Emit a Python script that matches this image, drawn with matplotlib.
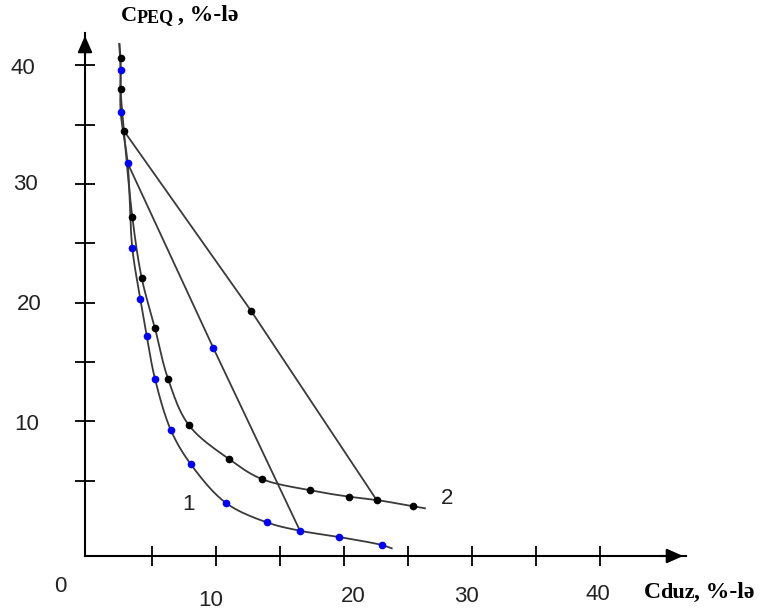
import numpy as np
import matplotlib.pyplot as plt

# curve 1 (blue points)
c1_x = [2.55, 2.55, 3.10, 3.46, 4.09, 4.59, 5.23, 6.48, 8.02, 10.78, 13.96, 16.56, 19.63, 22.95]
c1_y = [39.62, 36.08, 31.74, 24.62, 20.28, 17.19, 13.59, 9.24, 6.40, 3.12, 1.49, 0.78, 0.25, -0.42]
c1_start = (2.45, 41.79)
c1_end = (23.73, -0.70)

# curve 2 (black points)
c2_x = [2.55, 2.55, 2.81, 3.46, 4.20, 5.23, 6.25, 7.89, 11.04, 13.57, 17.34, 20.39, 22.55, 25.41]
c2_y = [40.58, 37.97, 34.46, 27.24, 22.05, 17.86, 13.59, 9.66, 6.80, 5.14, 4.19, 3.65, 3.37, 2.84]
c2_start = (2.45, 41.79)
c2_end = (26.33, 2.67)

# tie lines
tieA_x = [2.81, 12.73, 22.55]
tieA_y = [34.46, 19.32, 3.37]
tieB_x = [3.10, 9.79, 16.56]
tieB_y = [31.74, 16.18, 0.78]

ticks = [5, 10, 15, 20, 25, 30, 35, 40]
x_labels = ["0", "10", "20", "30", "40"]
y_labels = ["40", "30", "20", "10"]


def smooth(xs, ys, n=20):
    # centripetal Catmull-Rom through the points, just for drawing the curve
    p = np.column_stack([xs, ys]).astype(float)
    p = np.vstack([2 * p[0] - p[1], p, 2 * p[-1] - p[-2]])
    out = []
    for i in range(1, len(p) - 2):
        p0, p1, p2, p3 = p[i - 1], p[i], p[i + 1], p[i + 2]
        t0 = 0.0
        t1 = t0 + np.linalg.norm(p1 - p0) ** 0.5
        t2 = t1 + np.linalg.norm(p2 - p1) ** 0.5
        t3 = t2 + np.linalg.norm(p3 - p2) ** 0.5
        t = np.linspace(t1, t2, n)[:, None]
        a1 = (t1 - t) / (t1 - t0) * p0 + (t - t0) / (t1 - t0) * p1
        a2 = (t2 - t) / (t2 - t1) * p1 + (t - t1) / (t2 - t1) * p2
        a3 = (t3 - t) / (t3 - t2) * p2 + (t - t2) / (t3 - t2) * p3
        b1 = (t2 - t) / (t2 - t0) * a1 + (t - t0) / (t2 - t0) * a2
        b2 = (t3 - t) / (t3 - t1) * a2 + (t - t1) / (t3 - t1) * a3
        c = (t2 - t) / (t2 - t1) * b1 + (t - t1) / (t2 - t1) * b2
        out.append(c)
    out = np.vstack(out)
    return out[:, 0], out[:, 1]


W, H = 767, 614


def fpos(x, y):
    return x / W, 1 - y / H


fig = plt.figure(figsize=(7.67, 6.14), dpi=100)
ax = fig.add_axes([85 / W, 1 - 556 / H, (686 - 85) / W, (556 - 33) / H])
ax.set_xlim(-0.234, 46.72)
ax.set_ylim(-1.348, 42.71)

line_col = "#3a3a3a"

# curves
sx, sy = smooth([c1_start[0]] + c1_x + [c1_end[0]], [c1_start[1]] + c1_y + [c1_end[1]])
ax.plot(sx, sy, color=line_col, lw=1.3, zorder=2)
sx, sy = smooth([c2_start[0]] + c2_x + [c2_end[0]], [c2_start[1]] + c2_y + [c2_end[1]])
ax.plot(sx, sy, color=line_col, lw=1.3, zorder=2)

# tie lines
ax.plot(tieA_x, tieA_y, color=line_col, lw=1.3, zorder=2)
ax.plot(tieB_x, tieB_y, color=line_col, lw=1.3, zorder=2)

# points
ax.plot(c2_x, c2_y, "o", color="black", ms=4.5, zorder=3)
ax.plot(tieA_x[1], tieA_y[1], "o", color="black", ms=4.5, zorder=3)
ax.plot(c1_x, c1_y, "o", color="#0000ff", ms=4.5, zorder=3)
ax.plot(tieB_x[1], tieB_y[1], "o", color="#0000ff", ms=4.5, zorder=3)

# axes look
for s in ["top", "right"]:
    ax.spines[s].set_visible(False)
for s in ["left", "bottom"]:
    ax.spines[s].set_linewidth(1.5)
ax.set_xticks(ticks)
ax.set_yticks(ticks)
ax.tick_params(direction="inout", length=15, width=1.3, labelbottom=False, labelleft=False)

arrow = dict(arrowstyle="-|>,head_length=0.5,head_width=0.22", color="black", lw=1.5, mutation_scale=20)
ax.annotate("", xy=(1.0, 0), xytext=(0.95, 0), xycoords="axes fraction", arrowprops=arrow, annotation_clip=False)
ax.annotate("", xy=(0, 1.0), xytext=(0, 0.95), xycoords="axes fraction", arrowprops=arrow, annotation_clip=False)

# tick labels
num_font = dict(family=["Liberation Sans", "DejaVu Sans"], fontsize=16, color="#222222")
for lab, (x, y) in zip(y_labels, [(23, 68), (25, 185), (29, 305), (27, 424)]):
    fig.text(*fpos(x, y), lab, ha="center", va="center", **num_font)
for lab, (x, y) in zip(x_labels, [(60, 586), (211, 600), (353, 597), (466, 596), (598, 594)]):
    fig.text(*fpos(x, y), lab, ha="center", va="center", **num_font)

# curve numbers
fig.text(*fpos(189, 504), "1", ha="center", va="center", **num_font)
fig.text(*fpos(447, 499), "2", ha="center", va="center", **num_font)

# axis titles
serif = ["Liberation Serif", "DejaVu Serif"]
fig.text(*fpos(121, 21), "C", family=serif, weight="bold", fontsize=16, va="baseline")
fig.text(*fpos(137, 22), "PEQ", family=serif, weight="bold", fontsize=13, va="baseline")
fig.text(*fpos(178, 21), ", %-lə", family=serif, weight="bold", fontsize=17, va="baseline")
fig.text(*fpos(644, 598), "C", family=serif, weight="bold", fontsize=17, va="baseline")
fig.text(*fpos(660, 598), "duz", family=serif, weight="bold", fontsize=16, va="baseline")
fig.text(*fpos(694, 598), ", %-lə", family=serif, weight="bold", fontsize=17, va="baseline")

fig.savefig("out.png", dpi=100)
